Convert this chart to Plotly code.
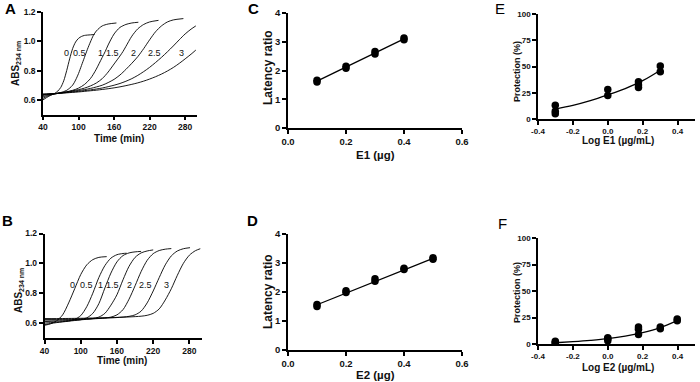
import plotly.graph_objects as go

FONT = "Liberation Sans, Arial, sans-serif"

# ---------------- Panel A: ABS234 vs time (E1) ----------------
A_LABELS = ["0", "0.5", "1", "1.5", "2", "2.5", "3"]
A_LABEL_T = [80, 101, 137, 158, 193, 229, 273]
A_T0 = [40, 50, 60, 65, 70, 75, 80, 85, 90, 95, 100, 105, 110, 120, 127]
A_Y0 = [0.600, 0.625, 0.645, 0.660, 0.685, 0.730, 0.800, 0.880, 0.950, 0.995, 1.020, 1.033, 1.040, 1.044, 1.046]
A_T05 = [40, 50, 60, 70, 80, 90, 95, 100, 105, 110, 115, 120, 125, 130, 135, 140, 150, 164]
A_Y05 = [0.610, 0.630, 0.640, 0.650, 0.665, 0.700, 0.735, 0.780, 0.835, 0.890, 0.945, 0.995, 1.040, 1.070, 1.090, 1.105, 1.118, 1.125]
A_T1 = [40, 50, 60, 70, 80, 90, 100, 110, 120, 125, 130, 135, 140, 145, 150, 155, 160, 165, 170, 180, 190, 201]
A_Y1 = [0.620, 0.635, 0.640, 0.648, 0.655, 0.665, 0.680, 0.705, 0.745, 0.775, 0.810, 0.850, 0.890, 0.930, 0.975, 1.015, 1.050, 1.075, 1.095, 1.115, 1.125, 1.130]
A_T15 = [40, 50, 60, 70, 80, 90, 100, 110, 120, 130, 140, 150, 160, 170, 175, 180, 190, 200, 210, 220, 235]
A_Y15 = [0.630, 0.638, 0.643, 0.648, 0.655, 0.662, 0.670, 0.680, 0.695, 0.715, 0.745, 0.790, 0.845, 0.900, 0.930, 0.965, 1.035, 1.085, 1.115, 1.132, 1.143]
A_T2 = [40, 50, 60, 70, 80, 90, 100, 110, 120, 130, 140, 150, 160, 170, 180, 190, 200, 210, 220, 230, 240, 250, 260, 277]
A_Y2 = [0.635, 0.640, 0.643, 0.647, 0.652, 0.658, 0.664, 0.670, 0.678, 0.688, 0.700, 0.718, 0.740, 0.770, 0.808, 0.850, 0.895, 0.950, 1.010, 1.065, 1.105, 1.132, 1.146, 1.155]
A_T25 = [40, 50, 60, 70, 80, 90, 100, 110, 120, 130, 140, 150, 160, 170, 180, 190, 200, 210, 220, 230, 240, 250, 260, 270, 280, 290, 298]
A_Y25 = [0.638, 0.640, 0.643, 0.646, 0.650, 0.654, 0.658, 0.663, 0.668, 0.674, 0.681, 0.690, 0.700, 0.712, 0.727, 0.745, 0.767, 0.793, 0.822, 0.855, 0.890, 0.928, 0.968, 1.010, 1.050, 1.083, 1.105]
A_T3 = [40, 50, 60, 70, 80, 90, 100, 110, 120, 130, 140, 150, 160, 170, 180, 190, 200, 210, 220, 230, 240, 250, 260, 270, 280, 290, 298]
A_Y3 = [0.640, 0.641, 0.643, 0.645, 0.648, 0.651, 0.654, 0.658, 0.662, 0.666, 0.671, 0.676, 0.682, 0.689, 0.697, 0.706, 0.716, 0.728, 0.742, 0.758, 0.776, 0.797, 0.821, 0.849, 0.880, 0.912, 0.940]

# ---------------- Panel B: ABS234 vs time (E2) ----------------
B_LABEL_T = [86, 110, 133, 152, 180, 208, 242]
B_T0 = [40, 50, 60, 70, 80, 90, 100, 110, 120, 130, 143]
B_Y0 = [0.585, 0.595, 0.615, 0.655, 0.735, 0.830, 0.925, 0.990, 1.025, 1.040, 1.045]
B_T05 = [40, 50, 60, 70, 80, 90, 100, 110, 120, 130, 140, 150, 160, 170, 176]
B_Y05 = [0.590, 0.597, 0.603, 0.608, 0.613, 0.625, 0.650, 0.710, 0.800, 0.905, 0.985, 1.035, 1.058, 1.066, 1.068]
B_T1 = [40, 50, 60, 70, 80, 90, 100, 110, 120, 130, 140, 150, 160, 170, 180, 190, 200]
B_Y1 = [0.600, 0.603, 0.606, 0.610, 0.613, 0.617, 0.622, 0.635, 0.665, 0.730, 0.835, 0.935, 1.010, 1.052, 1.070, 1.077, 1.080]
B_T15 = [40, 60, 80, 100, 110, 120, 130, 140, 150, 160, 170, 180, 190, 200, 210, 220]
B_Y15 = [0.610, 0.613, 0.617, 0.622, 0.625, 0.630, 0.640, 0.665, 0.720, 0.790, 0.890, 0.980, 1.040, 1.070, 1.083, 1.090]
B_T2 = [40, 60, 80, 100, 120, 140, 150, 160, 170, 180, 190, 200, 210, 220, 230, 240, 250]
B_Y2 = [0.620, 0.620, 0.622, 0.625, 0.628, 0.634, 0.640, 0.655, 0.690, 0.760, 0.850, 0.945, 1.020, 1.065, 1.086, 1.095, 1.099]
B_T25 = [40, 60, 80, 100, 120, 140, 160, 180, 190, 200, 210, 220, 230, 240, 250, 260, 270, 281]
B_Y25 = [0.625, 0.625, 0.626, 0.628, 0.630, 0.633, 0.637, 0.645, 0.655, 0.680, 0.735, 0.815, 0.905, 0.990, 1.050, 1.083, 1.098, 1.105]
B_T3 = [40, 60, 80, 100, 120, 140, 160, 180, 200, 210, 220, 230, 240, 250, 260, 270, 280, 290, 298]
B_Y3 = [0.630, 0.630, 0.631, 0.632, 0.634, 0.636, 0.638, 0.641, 0.646, 0.652, 0.665, 0.695, 0.755, 0.830, 0.920, 1.000, 1.055, 1.085, 1.098]

# ---------------- Panel C: latency ratio vs E1 ----------------
C_X = [0.1, 0.1, 0.2, 0.2, 0.3, 0.3, 0.4, 0.4]
C_Y = [1.60, 1.66, 2.08, 2.15, 2.57, 2.66, 3.07, 3.13]
C_FIT_X = [0.1, 0.4]
C_FIT_Y = [1.63, 3.10]

# ---------------- Panel D: latency ratio vs E2 ----------------
D_X = [0.1, 0.1, 0.2, 0.2, 0.3, 0.3, 0.4, 0.4, 0.5, 0.5]
D_Y = [1.50, 1.57, 1.98, 2.04, 2.37, 2.46, 2.78, 2.82, 3.13, 3.18]
D_FIT_X = [0.1, 0.5]
D_FIT_Y = [1.56, 3.16]

# ---------------- Panel E: protection vs log E1 ----------------
E_X = [-0.301, -0.301, -0.301, 0.0, 0.0, 0.176, 0.176, 0.176, 0.301, 0.301]
E_Y = [5, 7.5, 13, 22.5, 28, 30, 32.5, 35.5, 45, 50.5]
E_FIT_X = [-0.301, -0.2, -0.1, 0.0, 0.1, 0.2, 0.301]
E_FIT_Y = [9.5, 13, 17.5, 23, 29, 36.5, 46.5]

# ---------------- Panel F: protection vs log E2 ----------------
F_X = [-0.301, -0.301, -0.301, 0.0, 0.0, 0.0, 0.176, 0.176, 0.176, 0.301, 0.301, 0.398, 0.398]
F_Y = [0.5, 1.5, 2.5, 3, 5, 6, 9, 14, 16, 14.5, 16, 22, 23.5]
F_FIT_X = [-0.301, -0.2, -0.1, 0.0, 0.1, 0.2, 0.301, 0.398]
F_FIT_Y = [1.2, 2.2, 3.4, 5.0, 7.4, 10.8, 15.5, 22.0]

LOG_TICKS = [-0.4, -0.2, 0.0, 0.2, 0.4]
LOG_TICKTEXT = ["-0.4", "-0.2", "0.0", "0.2", "0.4"]

W, H = 700, 382


def px_dom_x(a, b):
    return [a / W, b / W]


def px_dom_y(top, bottom):
    return [1 - bottom / H, 1 - top / H]


fig = go.Figure()

curvesA = [(A_T0, A_Y0), (A_T05, A_Y05), (A_T1, A_Y1), (A_T15, A_Y15), (A_T2, A_Y2), (A_T25, A_Y25), (A_T3, A_Y3)]
for t, y in curvesA:
    fig.add_trace(go.Scatter(x=t, y=y, mode="lines", line=dict(color="black", width=0.9, shape="spline", smoothing=0.8),
                             xaxis="x", yaxis="y", showlegend=False, hoverinfo="skip"))
curvesB = [(B_T0, B_Y0), (B_T05, B_Y05), (B_T1, B_Y1), (B_T15, B_Y15), (B_T2, B_Y2), (B_T25, B_Y25), (B_T3, B_Y3)]
for t, y in curvesB:
    fig.add_trace(go.Scatter(x=t, y=y, mode="lines", line=dict(color="black", width=0.9, shape="spline", smoothing=0.8),
                             xaxis="x2", yaxis="y2", showlegend=False, hoverinfo="skip"))

mk = dict(color="black", size=7.5, symbol="circle")
for (fx, fy, px_, py_, xa, ya, shape) in [
    (C_FIT_X, C_FIT_Y, C_X, C_Y, "x3", "y3", "linear"),
    (D_FIT_X, D_FIT_Y, D_X, D_Y, "x4", "y4", "linear"),
    (E_FIT_X, E_FIT_Y, E_X, E_Y, "x5", "y5", "spline"),
    (F_FIT_X, F_FIT_Y, F_X, F_Y, "x6", "y6", "spline"),
]:
    fig.add_trace(go.Scatter(x=fx, y=fy, mode="lines", line=dict(color="black", width=1.3, shape=shape),
                             xaxis=xa, yaxis=ya, showlegend=False))
    fig.add_trace(go.Scatter(x=px_, y=py_, mode="markers", marker=mk, xaxis=xa, yaxis=ya, showlegend=False))


def ax(fs=9, **kw):
    d = dict(showline=True, linecolor="black", linewidth=1.5, ticks="outside", ticklen=4, tickwidth=1.5,
             tickcolor="black", showgrid=False, zeroline=False, automargin=False,
             tickfont=dict(family=FONT, size=fs, color="#111", weight="bold"))
    d.update(kw)
    return d


fig.update_layout(
    width=W, height=H, margin=dict(l=0, r=0, t=0, b=0, autoexpand=False),
    paper_bgcolor="white", plot_bgcolor="white",
    font=dict(family=FONT, color="#111"),
    # A
    xaxis=ax(8.5, domain=px_dom_x(43, 197), range=[40, 300], tickvals=[40, 100, 160, 220, 280], anchor="y"),
    yaxis=ax(8.5, domain=px_dom_y(12, 114.5), range=[0.5, 1.2], tickvals=[0.6, 0.8, 1.0, 1.2],
             ticktext=["0.6", "0.8", "1.0", "1.2"], anchor="x"),
    # B
    xaxis2=ax(8.5, domain=px_dom_x(44.5, 201.5), range=[40, 300], tickvals=[40, 100, 160, 220, 280], anchor="y2"),
    yaxis2=ax(8.5, domain=px_dom_y(233.5, 338), range=[0.5, 1.2], tickvals=[0.6, 0.8, 1.0, 1.2],
              ticktext=["0.6", "0.8", "1.0", "1.2"], anchor="x2"),
    # C
    xaxis3=ax(9.5, domain=px_dom_x(288, 462), range=[0, 0.6], tickvals=[0, 0.2, 0.4, 0.6],
              ticktext=["0.0", "0.2", "0.4", "0.6"], anchor="y3"),
    yaxis3=ax(9.5, domain=px_dom_y(13, 128), range=[0, 4], tickvals=[0, 1, 2, 3, 4], anchor="x3"),
    # D
    xaxis4=ax(9.5, domain=px_dom_x(288, 462), range=[0, 0.6], tickvals=[0, 0.2, 0.4, 0.6],
              ticktext=["0.0", "0.2", "0.4", "0.6"], anchor="y4"),
    yaxis4=ax(9.5, domain=px_dom_y(234, 350), range=[0, 4], tickvals=[0, 1, 2, 3, 4], anchor="x4"),
    # E
    xaxis5=ax(8, domain=px_dom_x(538, 695), range=[-0.4, 0.5], tickvals=LOG_TICKS, ticktext=LOG_TICKTEXT, anchor="y5"),
    yaxis5=ax(8, domain=px_dom_y(14, 119), range=[0, 100], tickvals=[0, 25, 50, 75, 100], anchor="x5"),
    # F
    xaxis6=ax(8, domain=px_dom_x(538, 695), range=[-0.4, 0.5], tickvals=LOG_TICKS, ticktext=LOG_TICKTEXT, anchor="y6"),
    yaxis6=ax(8, domain=px_dom_y(238, 344), range=[0, 100], tickvals=[0, 25, 50, 75, 100], anchor="x6"),
)

annotations = []
for lab, t in zip(A_LABELS, A_LABEL_T):
    annotations.append(dict(x=t, y=0.92, xref="x", yref="y", text=lab, showarrow=False,
                            font=dict(family=FONT, size=9, color="#111")))
for lab, t in zip(A_LABELS, B_LABEL_T):
    annotations.append(dict(x=t, y=0.853, xref="x2", yref="y2", text=lab, showarrow=False,
                            font=dict(family=FONT, size=9, color="#111")))

# axis titles (text, centre x px, centre y px, size, angle)
TITLES = [
    ("Time (min)", 119, 138, 10, 0),
    ("ABS<sub>234 nm</sub>", 16, 64, 10, -90),
    ("Time (min)", 122, 360, 10, 0),
    ("ABS<sub>234 nm</sub>", 19, 291, 10, -90),
    ("E1 (µg)", 375, 155, 11.5, 0),
    ("Latency ratio", 268, 68, 12, -90),
    ("E2 (µg)", 375, 375, 11.5, 0),
    ("Latency ratio", 268, 292, 12, -90),
    ("Log E1 (µg/mL)", 618, 141, 10, 0),
    ("Protection (%)", 517, 72, 9, -90),
    ("Log E2 (µg/mL)", 618, 367, 10, 0),
    ("Protection (%)", 517, 293, 9, -90),
]
for text, cx, cy, fs, ang in TITLES:
    annotations.append(dict(x=cx / W, y=1 - cy / H, xref="paper", yref="paper", text=text, showarrow=False,
                            textangle=ang, xanchor="center", yanchor="middle",
                            font=dict(family=FONT, size=fs, color="#111", weight="bold")))

for letter, px_x, px_y, wt in [("A", 10, 9, "bold"), ("B", 7, 220, "bold"), ("C", 253, 8, "bold"),
                                ("D", 252, 220, "bold"), ("E", 500, 8, "normal"), ("F", 503, 223, "normal")]:
    annotations.append(dict(x=px_x / W, y=1 - px_y / H, xref="paper", yref="paper", text=letter, showarrow=False,
                            xanchor="center", yanchor="middle",
                            font=dict(family=FONT, size=15, color="black", weight=wt)))
fig.update_layout(annotations=annotations)

# remove the browser's default 8px body margin so the figure sits at the window origin
fig.write_html("out.html", config={"displayModeBar": False},
               post_script="document.body.style.margin='0px';document.body.style.overflow='hidden';")
